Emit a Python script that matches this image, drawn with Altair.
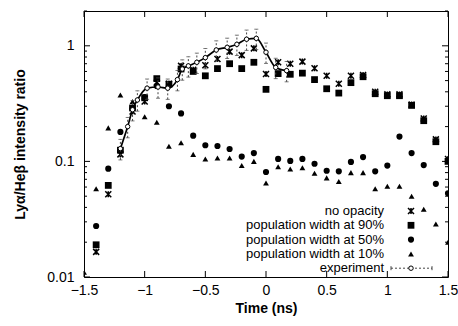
import altair as alt
import pandas as pd

# ---------------- data ----------------
times = [-1.5, -1.4, -1.3, -1.2, -1.1, -1.0, -0.9, -0.8, -0.7, -0.6, -0.5, -0.4, -0.3, -0.2, -0.1,
         0.0, 0.1, 0.2, 0.3, 0.4, 0.5, 0.6, 0.7, 0.8, 0.9, 1.0, 1.1, 1.2, 1.3, 1.4, 1.5]
no_opacity = [None, 0.0165, 0.052, 0.115, 0.27, 0.33, 0.48, 0.47, 0.67, 0.62, 0.68, 0.77, 0.89, 0.83, 0.95,
              0.57, 0.72, 0.70, 0.73, 0.64, 0.55, 0.47, 0.55, 0.56, 0.40, 0.38, 0.38, 0.31, 0.235, 0.155, 0.105]
pop90 = [None, 0.019, 0.062, 0.125, 0.29, 0.355, 0.52, 0.465, 0.63, 0.60, 0.55, 0.635, 0.70, 0.635, 0.72,
         0.42, 0.575, 0.567, 0.58, 0.51, 0.425, 0.39, 0.48, 0.54, 0.385, 0.37, 0.37, 0.305, 0.225, 0.148, 0.10]
pop50 = [None, 0.0276, 0.0865, 0.18, 0.29, 0.36, 0.45, 0.30, 0.26, 0.167, 0.138, 0.136, 0.128, 0.11, 0.118,
         0.081, 0.105, 0.101, 0.105, 0.0955, 0.083, 0.082, 0.099, 0.109, 0.082, 0.092, 0.164, 0.118, 0.093, 0.064, 0.053]
pop10 = [0.011, 0.058, 0.195, 0.375, 0.33, 0.243, 0.218, 0.135, 0.145, 0.115, 0.105, 0.107, 0.107, 0.092, 0.10,
         0.065, 0.09, 0.086, 0.088, 0.079, 0.072, 0.067, 0.08, 0.08, 0.058, 0.061, 0.061, 0.050, 0.0385, 0.0287, 0.020]

exp_t = [-1.20, -1.14, -1.10, -1.06, -0.98, -0.89, -0.81, -0.73, -0.69, -0.64, -0.57, -0.50, -0.41,
         -0.32, -0.24, -0.16, -0.08, 0.00, 0.08, 0.17]
exp_y = [0.129, 0.20, 0.28, 0.34, 0.43, 0.44, 0.43, 0.51, 0.63, 0.67, 0.72, 0.79, 0.92,
         0.97, 1.03, 1.14, 1.16, 0.88, 0.65, 0.61]
exp_err = [0.026, 0.040, 0.056, 0.068, 0.086, 0.088, 0.086, 0.102, 0.126, 0.134, 0.144, 0.158, 0.184,
           0.194, 0.206, 0.228, 0.232, 0.176, 0.130, 0.122]

x_ticks = [-1.5, -1.0, -0.5, 0.0, 0.5, 1.0, 1.5]
y_major = [0.01, 0.1, 1]
y_minor = [0.02, 0.03, 0.04, 0.05, 0.06, 0.07, 0.08, 0.09,
           0.2, 0.3, 0.4, 0.5, 0.6, 0.7, 0.8, 0.9, 2]

legend_labels = ["no opacity", "population width at 90%", "population width at 50%",
                 "population width at 10%", "experiment"]

# ---------------- tables ----------------
model = pd.DataFrame({"t": times, "nov": no_opacity, "p90": pop90, "p50": pop50, "p10": pop10})
exp = pd.DataFrame({"t": exp_t, "y": exp_y, "err": exp_err})
exp["lo"] = exp["y"] - exp["err"]
exp["hi"] = exp["y"] + exp["err"]
xt = pd.DataFrame({"v": x_ticks})
ymaj = pd.DataFrame({"v": y_major})
ymin = pd.DataFrame({"v": y_minor})

W, H = 364, 266
FONT = "Liberation Sans"
ECOL = "#444444"

xscale = alt.Scale(domain=[-1.5, 1.5], nice=False, zero=False)
yscale = alt.Scale(type="log", domain=[0.01, 2], nice=False)
xaxis = alt.Axis(values=x_ticks, format="~g", ticks=False, domain=False, grid=False,
                 labelFont=FONT, labelFontSize=14, labelColor="black", labelPadding=6,
                 titleFont=FONT, titleFontSize=14, titleFontWeight="bold", titleColor="black",
                 titlePadding=4, labelFlush=False)
yaxis = alt.Axis(values=y_major, format="~g", ticks=False, domain=False, grid=False,
                 labelFont=FONT, labelFontSize=14, labelColor="black", labelPadding=10,
                 titleFont=FONT, titleFontSize=14, titleFontWeight="bold", titleColor="black",
                 titleX=-64, titleY=H / 2, titleAngle=-90, titleBaseline="middle", titleAlign="center")

XT = "Time (ns)"
YT = "Lyα/Heβ intensity ratio"


def X(f):
    return alt.X(f, type="quantitative", scale=xscale, axis=xaxis, title=XT)


def Y(f):
    return alt.Y(f, type="quantitative", scale=yscale, axis=yaxis, title=YT)


XSHAPE = "M-1,-1L1,1M-1,1L1,-1M0,-1L0,1"
S_X, S_SQ, S_C, S_T = 36, 46, 38, 34

base = alt.Chart(model)

cross = base.mark_point(shape=XSHAPE, filled=False, size=S_X, strokeWidth=1.5,
                        color="black", opacity=1, clip=True).encode(x=X("t"), y=Y("nov"))
sq = base.mark_point(shape="square", filled=True, size=S_SQ, color="black", opacity=1,
                     clip=True).encode(x=X("t"), y=Y("p90"))
circ = base.mark_point(shape="circle", filled=True, size=S_C, color="black", opacity=1,
                       clip=True).encode(x=X("t"), y=Y("p50"))
tri = base.mark_point(shape="triangle-up", filled=True, size=S_T, color="black", opacity=1,
                      clip=True).encode(x=X("t"), y=Y("p10"))

ebase = alt.Chart(exp)
ebar = ebase.mark_rule(color=ECOL, strokeWidth=1, strokeDash=[2, 2]).encode(
    x=X("t"), y=Y("lo"), y2="hi")
ecap_lo = ebase.mark_tick(orient="horizontal", size=4, thickness=1, color=ECOL).encode(
    x=X("t"), y=Y("lo"))
ecap_hi = ebase.mark_tick(orient="horizontal", size=4, thickness=1, color=ECOL).encode(
    x=X("t"), y=Y("hi"))
eline = ebase.mark_line(interpolate="monotone", color="black", strokeWidth=1.7).encode(
    x=X("t"), y=Y("y"))
epts = ebase.mark_point(shape="circle", filled=False, size=20, strokeWidth=1,
                        color="black", fill="white", fillOpacity=1, opacity=1).encode(x=X("t"), y=Y("y"))

# inside tick marks (gnuplot style, mirrored)
xb = alt.Chart(xt).mark_rule(color="black").encode(x=X("v"), y=alt.value(H), y2=alt.value(H - 6))
xtp = alt.Chart(xt).mark_rule(color="black").encode(x=X("v"), y=alt.value(0), y2=alt.value(6))
yl = alt.Chart(ymaj).mark_rule(color="black").encode(y=Y("v"), x=alt.value(0), x2=alt.value(6))
yr = alt.Chart(ymaj).mark_rule(color="black").encode(y=Y("v"), x=alt.value(W), x2=alt.value(W - 6))
yl2 = alt.Chart(ymin).mark_rule(color="black").encode(y=Y("v"), x=alt.value(0), x2=alt.value(3))
yr2 = alt.Chart(ymin).mark_rule(color="black").encode(y=Y("v"), x=alt.value(W), x2=alt.value(W - 3))

# legend (gnuplot style: right-aligned text, sample on the right)
one = pd.DataFrame({"a": [0]})
LX, MX = 300, 327
LY = [200, 214.3, 228.6, 242.9, 257.2]
leg = []
for lab, ly in zip(legend_labels, LY):
    leg.append(alt.Chart(one).mark_text(align="right", baseline="middle", font=FONT, fontSize=13,
                                        color="black").encode(x=alt.value(LX), y=alt.value(ly),
                                                              text=alt.value(lab)))
leg.append(alt.Chart(one).mark_point(shape=XSHAPE, filled=False, size=S_X,
                                     strokeWidth=1.5, color="black", opacity=1).encode(
    x=alt.value(MX), y=alt.value(LY[0])))
leg.append(alt.Chart(one).mark_point(shape="square", filled=True, size=S_SQ, color="black",
                                     opacity=1).encode(x=alt.value(MX), y=alt.value(LY[1])))
leg.append(alt.Chart(one).mark_point(shape="circle", filled=True, size=S_C, color="black",
                                     opacity=1).encode(x=alt.value(MX), y=alt.value(LY[2])))
leg.append(alt.Chart(one).mark_point(shape="triangle-up", filled=True, size=S_T, color="black",
                                     opacity=1).encode(x=alt.value(MX), y=alt.value(LY[3])))
leg.append(alt.Chart(one).mark_rule(color=ECOL, strokeWidth=1, strokeDash=[2, 2]).encode(
    x=alt.value(307), x2=alt.value(348), y=alt.value(LY[4])))
leg.append(alt.Chart(one).mark_rule(color=ECOL, strokeWidth=1).encode(
    x=alt.value(307), y=alt.value(LY[4] - 2), y2=alt.value(LY[4] + 2)))
leg.append(alt.Chart(one).mark_rule(color=ECOL, strokeWidth=1).encode(
    x=alt.value(348), y=alt.value(LY[4] - 2), y2=alt.value(LY[4] + 2)))
leg.append(alt.Chart(one).mark_point(shape="circle", filled=False, size=20, strokeWidth=1,
                                     color="black", fill="white", fillOpacity=1, opacity=1).encode(
    x=alt.value(MX), y=alt.value(LY[4])))

chart = alt.layer(tri, circ, sq, cross, ebar, ecap_lo, ecap_hi, eline, epts,
                  xb, xtp, yl, yr, yl2, yr2, *leg).properties(
    width=W, height=H,
    autosize=alt.AutoSizeParams(type="none"),
    padding={"left": 84, "top": 11, "right": 10, "bottom": 49},
    background="white",
).configure_view(stroke="black", strokeWidth=1)

chart.save("out.html", embed_options={"renderer": "svg", "actions": False})
